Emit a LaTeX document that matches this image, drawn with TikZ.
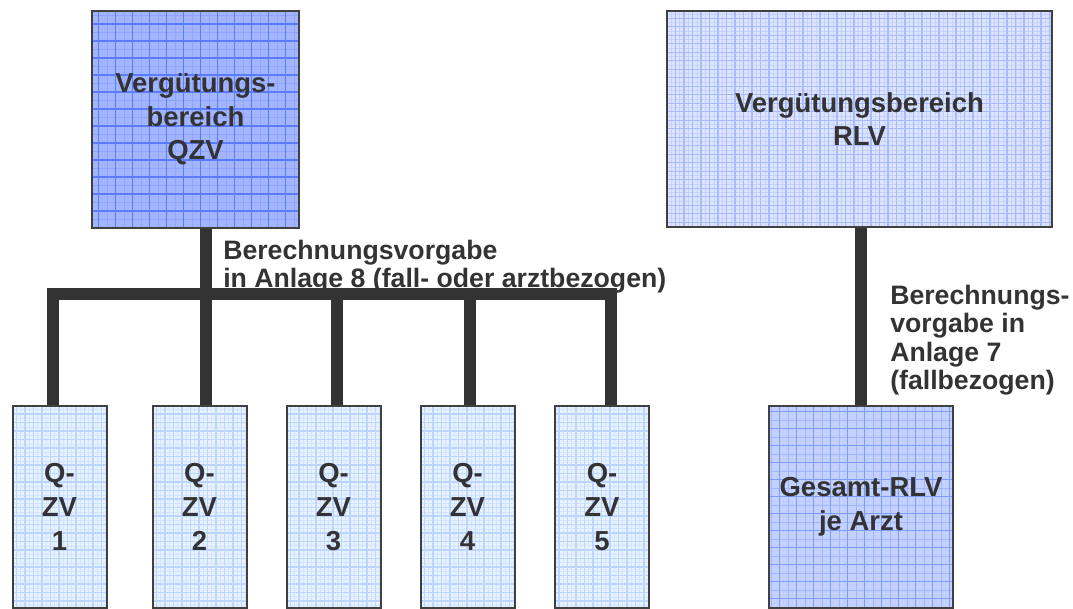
\documentclass[tikz,border=0pt]{standalone}
\usepackage{fontspec}
\setmainfont{Liberation Sans}
\definecolor{txt}{HTML}{333333}
\definecolor{edge}{HTML}{404040}
\definecolor{conncol}{HTML}{333333}
\definecolor{qzvfill}{HTML}{A3B5FF}
\definecolor{qzvmaj}{HTML}{5C7CFF}
\definecolor{qzvmin}{HTML}{8EA6FF}
\definecolor{rlvfill}{HTML}{DCE4FF}
\definecolor{rlvmaj}{HTML}{A9BBFF}
\definecolor{rlvmin}{HTML}{C6D3FF}
\definecolor{qfill}{HTML}{E8F2FF}
\definecolor{qmaj}{HTML}{BCD6FF}
\definecolor{qmin}{HTML}{D4E5FF}
\definecolor{gfill}{HTML}{C2D1FF}
\definecolor{gmaj}{HTML}{7F9BFF}
\definecolor{gmin}{HTML}{A2B6FF}
\tikzset{
  gridbox/.style n args={5}{draw=edge, line width=1.5pt, fill=#1, inner sep=0pt,
    text=txt, align=center, font=\bfseries\fontsize{20.6}{25.2}\selectfont,
    path picture={
      \draw[#3, line width=0.5pt, step=#5] (path picture bounding box.south west) grid (path picture bounding box.north east);
      \draw[#2, line width=1.1pt, step=#4] (path picture bounding box.south west) grid (path picture bounding box.north east);
    }},
  qzvbox/.style={gridbox={qzvfill}{qzvmaj}{qzvmin}{12.75pt}{6.375pt}},
  rlvbox/.style={gridbox={rlvfill}{rlvmaj}{rlvmin}{6.375pt}{3.19pt}},
  qbox/.style={gridbox={qfill}{qmaj}{qmin}{6.375pt}{3.19pt}, minimum width=70.5pt, minimum height=151.5pt},
  gbox/.style={gridbox={gfill}{gmaj}{gmin}{12.75pt}{6.375pt}},
  conn/.style={draw=conncol, line width=9pt},
  lab/.style={anchor=north west, inner sep=0pt, align=left, text=txt,
    font=\bfseries\fontsize{20}{21.2}\selectfont}
}
\begin{document}
\begin{tikzpicture}[x=0.75pt, y=-0.75pt]
\useasboundingbox (0,0) rectangle (1073,609);
% bus coordinates
\coordinate (s1) at (52.5,294);
\coordinate (s2) at (206,294);
\coordinate (s3) at (337,294);
\coordinate (s4) at (470,294);
\coordinate (s5) at (611,294);
% boxes
\node[qzvbox, minimum width=155.25pt, minimum height=162.75pt] (qzv) at (195.5,119.5) {Vergütungs-\\bereich\\QZV};
\node[rlvbox, minimum width=288.75pt, minimum height=162pt] (rlv) at (859.5,119) {Vergütungsbereich\\RLV};
\node[qbox] (q1) at (59.5,507) {Q-\\ZV\\1};
\node[qbox] (q2) at (199.5,507) {Q-\\ZV\\2};
\node[qbox] (q3) at (333.5,507) {Q-\\ZV\\3};
\node[qbox] (q4) at (467.5,507) {Q-\\ZV\\4};
\node[qbox] (q5) at (602,507) {Q-\\ZV\\5};
\node[gbox, minimum width=138pt, minimum height=151.5pt] (ges) at (861,507) {Gesamt-RLV\\je Arzt};
% connectors
\draw[conn] (s1 |- q1.north) -- (s1) -- (s5) -- (s5 |- q5.north);
\draw[conn] (s2 |- qzv.south) -- (s2 |- q2.north);
\draw[conn] (s3) -- (s3 |- q3.north);
\draw[conn] (s4) -- (s4 |- q4.north);
\draw[conn] (ges.north |- rlv.south) -- (ges.north);
% labels
\node[lab] (l8) at (223,240) {Berechnungsvorgabe\\in Anlage 8 (fall- oder arztbezogen)};
\node[lab] (l7) at (890,285) {Berechnungs-\\vorgabe in\\Anlage 7\\(fallbezogen)};
\end{tikzpicture}
\end{document}
